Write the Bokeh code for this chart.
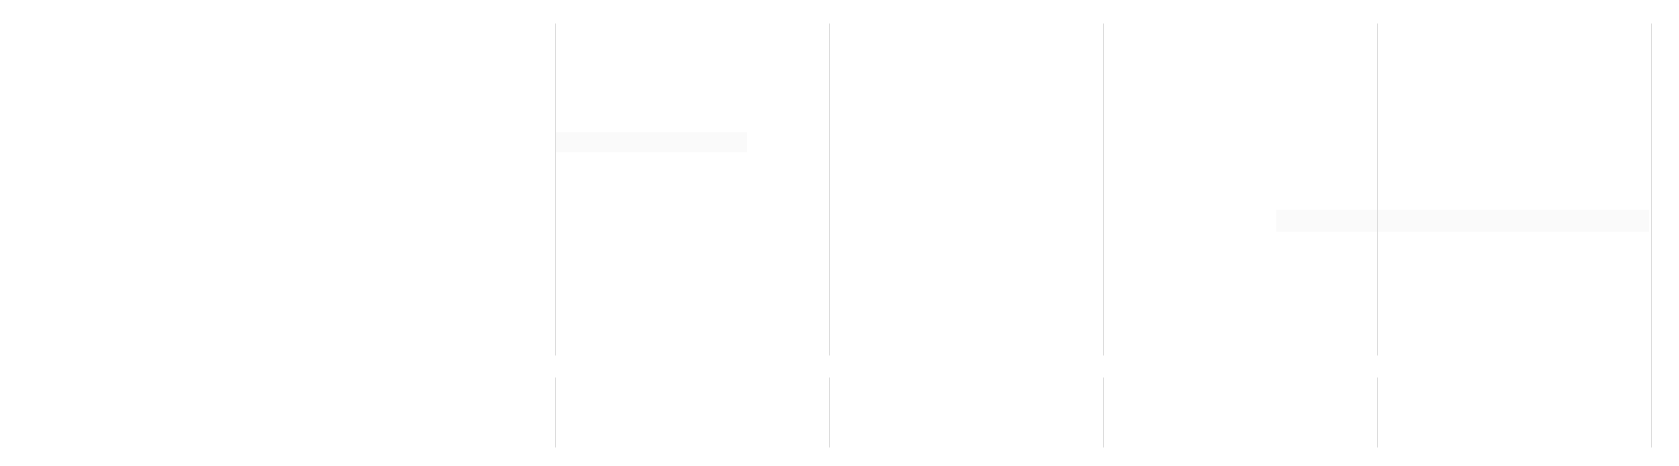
from bokeh.plotting import figure
from bokeh.models import ColumnDataSource, Range1d, FixedTicker, BoxAnnotation
from bokeh.embed import file_html
from bokeh.resources import INLINE

# Timeline data (x in periods, y in row units)
tasks = ["Task A", "Task B"]
starts = [0.0, 2.63]
ends = [0.70, 3.99]
rows = [7.2, 5.35]
bar_heights = [0.47, 0.52]
period_ticks = [0, 1, 2, 3, 4]

# separator band between the two sections
gap_bottom = 1.65
gap_top = 2.17
gap_end = 3.99

source = ColumnDataSource(
    dict(task=tasks, start=starts, end=ends, row=rows, h=bar_heights)
)

p = figure(
    width=1663,
    height=450,
    x_range=Range1d(-0.01, 4.01),
    y_range=Range1d(0, 10),
    toolbar_location=None,
    output_backend="svg",
    min_border_left=552,
    min_border_right=9,
    min_border_top=23,
    min_border_bottom=3,
)

p.hbar(
    y="row",
    left="start",
    right="end",
    height="h",
    source=source,
    fill_color="#fafafa",
    line_color=None,
)

p.add_layout(
    BoxAnnotation(
        left=-0.01,
        right=gap_end,
        bottom=gap_bottom,
        top=gap_top,
        fill_color="white",
        fill_alpha=1.0,
        line_color=None,
    )
)

# Styling
p.xaxis.visible = False
p.yaxis.visible = False
p.xgrid.ticker = FixedTicker(ticks=period_ticks)
p.xgrid.grid_line_color = "#dcdcdc"
p.xgrid.grid_line_width = 1
p.xgrid.level = "guide"
p.ygrid.grid_line_color = None
p.outline_line_color = None
p.background_fill_color = "white"
p.border_fill_color = "white"

open("out.html", "w").write(file_html(p, INLINE))
